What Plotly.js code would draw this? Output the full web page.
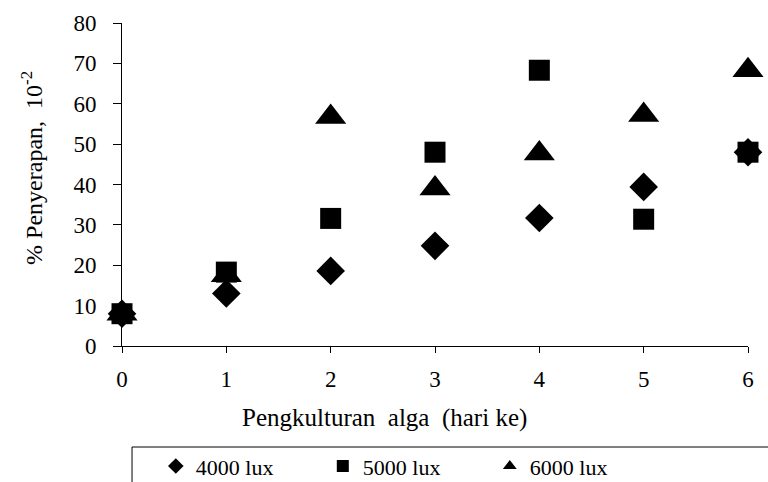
<!DOCTYPE html>
<html>
<head>
<meta charset="utf-8">
<script src="https://cdn.plot.ly/plotly-3.0.1.min.js"></script>
<style>html,body{margin:0;padding:0;background:#fff;}#chart{width:768px;height:482px;}</style>
</head>
<body>
<div id="chart"></div>
<script>
var days = [0, 1, 2, 3, 4, 5, 6];
var lux4000 = [8, 13, 18.6, 24.8, 31.7, 39.4, 48];
var lux5000 = [8, 18.3, 31.6, 48, 68.3, 31.4, 48];
var lux6000 = [8, 17.5, 56.7, 39, 47.7, 57.2, 68.3];
var seriesNames = ['4000 lux', '5000 lux', '6000 lux'];
var xTitle = 'Pengkulturan\u00a0 alga\u00a0 (hari ke)';
var yTitle = '% Penyerapan,\u00a0 10<sup>-2</sup>';

var FONT = '"Liberation Serif", "Times New Roman", serif';

var traces = [
  {x: days, y: lux4000, name: seriesNames[0], type: 'scatter', mode: 'markers',
   marker: {symbol: 'diamond', size: 22, color: '#000'}, cliponaxis: false},
  {x: days, y: lux5000, name: seriesNames[1], type: 'scatter', mode: 'markers',
   marker: {symbol: 'square', size: 21, color: '#000'}, cliponaxis: false},
  {x: days, y: lux6000, name: seriesNames[2], type: 'scatter', mode: 'markers',
   marker: {symbol: 'triangle-up', size: 27, color: '#000'}, cliponaxis: false}
];

var layout = {
  width: 768, height: 482,
  margin: {l: 122, r: 20, t: 23, b: 136, autoexpand: false},
  paper_bgcolor: '#fff', plot_bgcolor: '#fff',
  font: {family: FONT, color: '#000', size: 20},
  showlegend: true,
  legend: {
    orientation: 'h', x: 0.054, y: -0.307, xanchor: 'left', yanchor: 'top',
    font: {family: FONT, size: 22, color: '#000'},
    bgcolor: 'rgba(0,0,0,0)', borderwidth: 0,
    entrywidth: 122, entrywidthmode: 'pixels', itemsizing: 'constant', itemwidth: 30
  },
  xaxis: {
    range: [0, 6], tickvals: days, ticktext: days.map(String),
    showgrid: false, zeroline: false, showline: true, linecolor: '#000', linewidth: 1,
    ticks: 'outside', ticklen: 6, tickcolor: '#000', ticklabelstandoff: 6,
    tickfont: {family: FONT, size: 23, color: '#000'}, fixedrange: true
  },
  yaxis: {
    range: [0, 80], dtick: 10, tick0: 0,
    showgrid: false, zeroline: false, showline: true, linecolor: '#000', linewidth: 1,
    ticks: 'outside', ticklen: 8, tickcolor: '#000', ticklabelstandoff: 12,
    tickfont: {family: FONT, size: 23, color: '#000'}, fixedrange: true
  },
  annotations: [
    {text: xTitle, xref: 'paper', yref: 'paper', x: 0.42, y: -0.223,
     xanchor: 'center', yanchor: 'middle', showarrow: false,
     font: {family: FONT, size: 25, color: '#000'}},
    {text: yTitle, xref: 'paper', yref: 'paper', x: -0.144, y: 0.551,
     xanchor: 'center', yanchor: 'middle', showarrow: false, textangle: -90,
     font: {family: FONT, size: 24, color: '#000'}}
  ],
  shapes: [
    {type: 'rect', xref: 'paper', yref: 'paper', x0: 0.016, x1: 1.1, y0: -0.3127, y1: -0.55,
     line: {color: '#000', width: 1}, fillcolor: 'rgba(0,0,0,0)', layer: 'above'}
  ]
};

Plotly.newPlot('chart', traces, layout, {displayModeBar: false, staticPlot: true});
</script>
</body>
</html>
